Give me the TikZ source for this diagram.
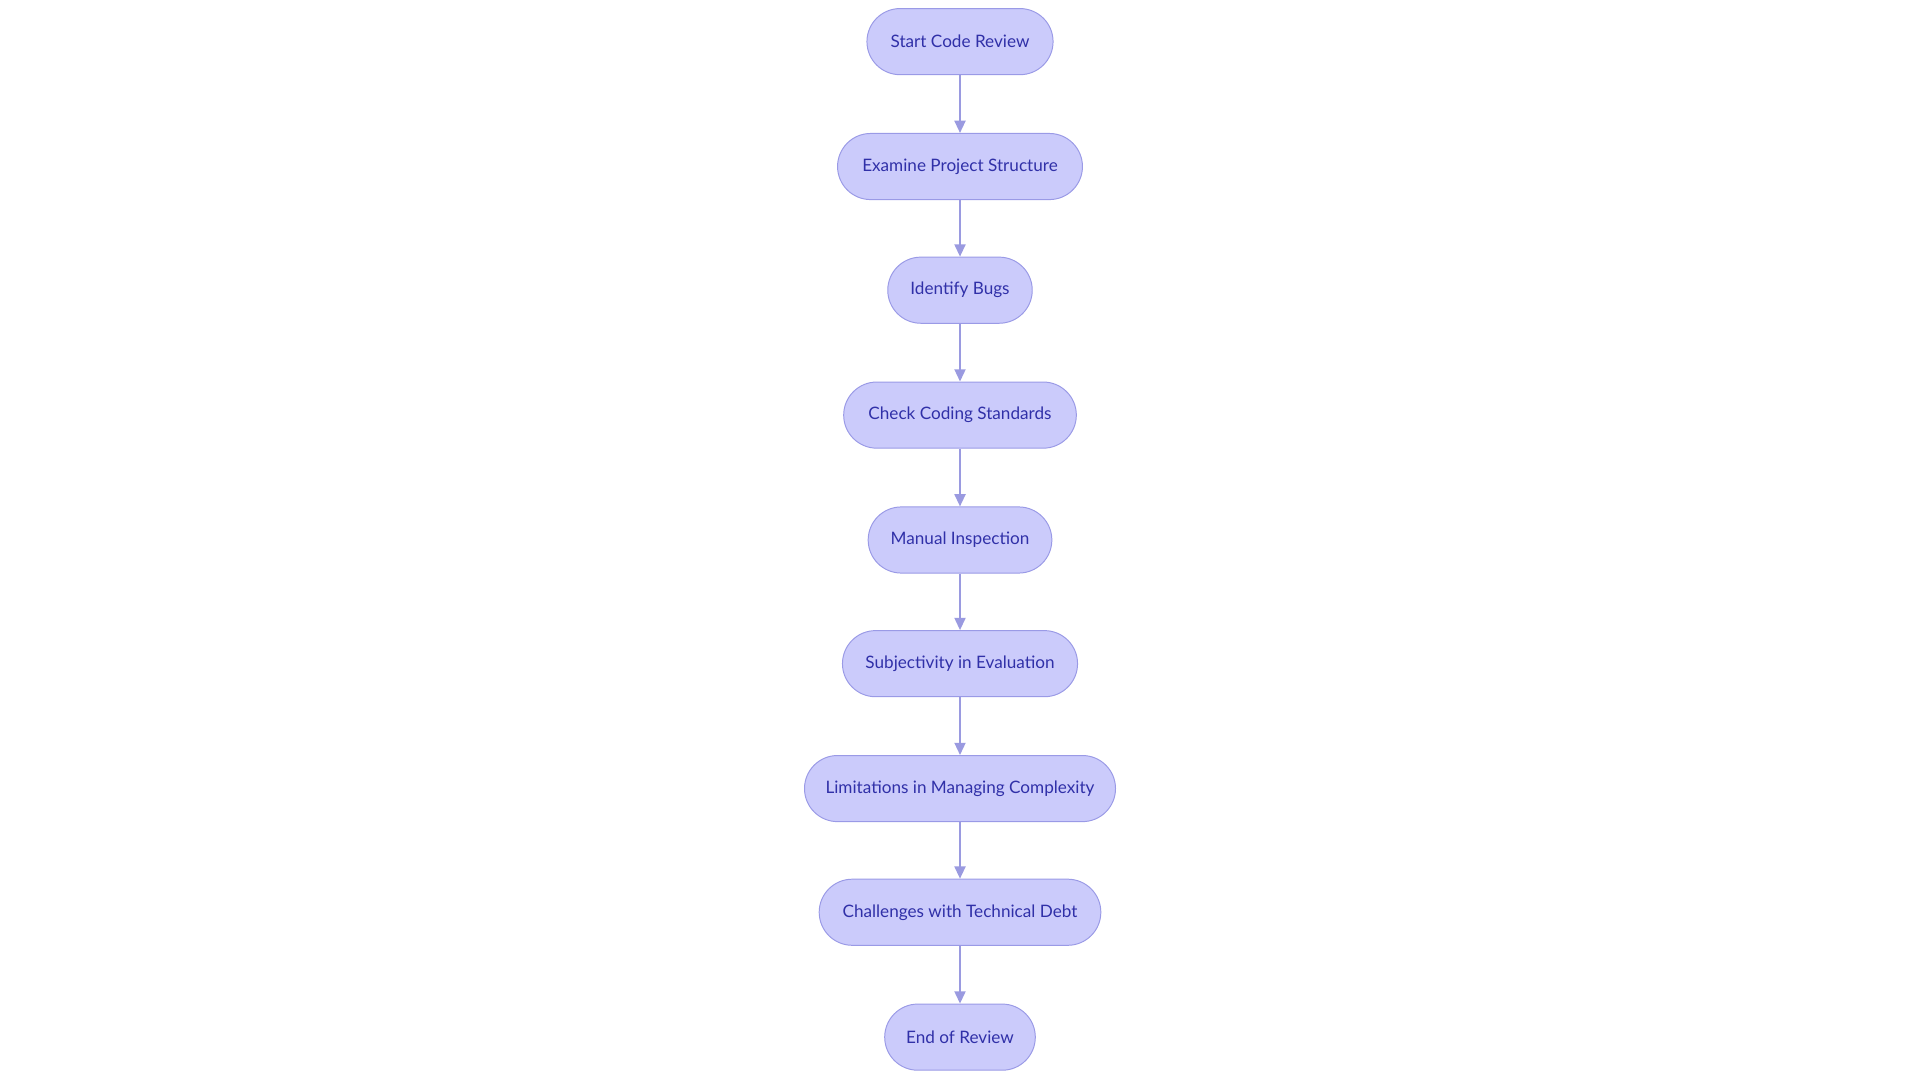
\documentclass[tikz,border=0pt]{standalone}
\usepackage{fontspec}
\setmainfont{Lato}
\usetikzlibrary{arrows.meta}
\definecolor{nfill}{HTML}{CBCBFB}
\definecolor{ndraw}{HTML}{9A9AE6}
\definecolor{ntext}{HTML}{3030A8}
\definecolor{edge}{HTML}{9A9AE0}
\tikzset{
 box/.style={draw=ndraw,fill=nfill,rounded corners=27pt,minimum height=54pt,inner sep=0pt,text=ntext,font=\fontsize{14}{16}\selectfont,line width=0.8pt},
 link/.style={draw=edge,line width=1.5pt,-{Triangle[length=10pt,width=9pt]}}
}
\begin{document}
\begin{tikzpicture}[x=1pt,y=-1pt]
\useasboundingbox (0,0) rectangle (1568,882);
\node[box,minimum width=152pt] (a) at (784,34) {Start Code Review};
\node[box,minimum width=200pt] (b) at (784,136) {Examine Project Structure};
\node[box,minimum width=118pt] (c) at (784,237) {Identify Bugs};
\node[box,minimum width=190pt] (d) at (784,339) {Check Coding Standards};
\node[box,minimum width=150pt] (e) at (784,441) {Manual Inspection};
\node[box,minimum width=192pt] (f) at (784,542) {Subjectivity in Evaluation};
\node[box,minimum width=254pt] (g) at (784,644) {Limitations in Managing Complexity};
\node[box,minimum width=230pt] (h) at (784,745) {Challenges with Technical Debt};
\node[box,minimum width=123pt] (i) at (784,847) {End of Review};
\foreach \p/\q in {a/b,b/c,c/d,d/e,e/f,f/g,g/h,h/i} \draw[link] (\p) -- (\q);
\end{tikzpicture}
\end{document}
